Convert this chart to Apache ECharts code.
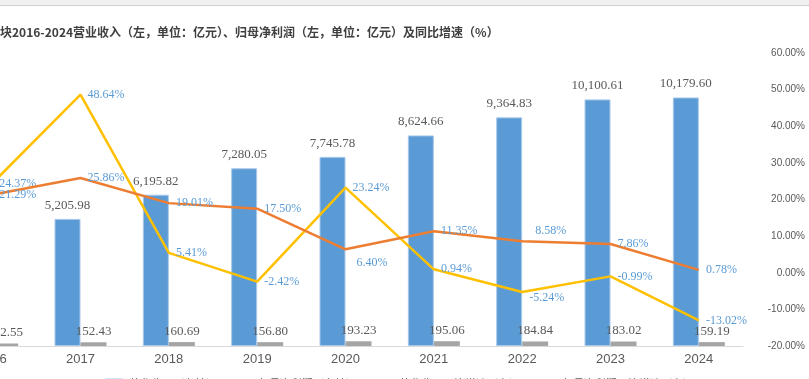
<!DOCTYPE html>
<html><head><meta charset="utf-8">
<script src="https://cdn.jsdelivr.net/npm/echarts@6/dist/echarts.min.js"></script>
<style>html,body{margin:0;padding:0;background:#fff;overflow:hidden;width:809px;height:379px;position:relative}#c{width:861px;height:379px;position:absolute;left:-52px;top:0}</style>
</head><body><div id="c"></div>
<script>
const categories = ['2016','2017','2018','2019','2020','2021','2022','2023','2024'];
const revenue = [4136.35, 5205.98, 6195.82, 7280.05, 7745.78, 8624.66, 9364.83, 10100.61, 10179.60];
const netProfit = [102.55, 152.43, 160.69, 156.80, 193.23, 195.06, 184.84, 183.02, 159.19];
const revenueGrowth = [21.29, 25.86, 19.01, 17.50, 6.40, 11.35, 8.58, 7.86, 0.78];
const profitGrowth = [24.37, 48.64, 5.41, -2.42, 23.24, 0.94, -5.24, -0.99, -13.02];
const legendNames = ['营业收入（左轴）','归母净利润（左轴）','营业收入同比增速（右）','归母净利润同比增速（右）'];
const titleText = '块2016-2024营业收入（左，单位：亿元）、归母净利润（左，单位：亿元）及同比增速（%）';

const shift = 52; // the chart canvas starts 52px left of the page (cropped view)
const serif = '"Liberation Serif", "Times New Roman", serif';
const narrow = '"Liberation Sans Narrow", "Liberation Sans", sans-serif';
const fmtNum = v => v.toLocaleString('en-US', {minimumFractionDigits: 2, maximumFractionDigits: 2});
const fmtPct = v => v.toFixed(2) + '%';

const pctLabel = {show: true, position: 'right', distance: 7, fontFamily: serif, fontSize: 12, color: '#5b9bd5', formatter: p => fmtPct(p.value)};

const revData = revenue.map((v, i) => i === 0 ? {value: v, label: {show: false}} : v);
const revGrowthData = revenueGrowth.map((v, i) => {
  if (i === 4) return {value: v, label: {offset: [4, 14]}};
  if (i === 6) return {value: v, label: {offset: [6, -10]}};
  return v;
});
const profGrowthData = profitGrowth.map((v, i) => {
  if (i === 6) return {value: v, label: {offset: [0, 6]}};
  return v;
});

const chart = echarts.init(document.getElementById('c'), null, {renderer: 'canvas'});
chart.setOption({
  animation: false,
  backgroundColor: '#ffffff',
  graphic: [
    {type: 'rect', left: 0, top: 0, shape: {width: 861, height: 5}, style: {fill: '#f0f0f0'}},
    {type: 'rect', left: 0, top: 5, shape: {width: 861, height: 1}, style: {fill: '#d0d0d0'}},
    {type: 'text', left: shift, top: 26, style: {text: titleText, fontSize: 12, fontWeight: 'bold', fill: '#404040', fontFamily: '"Noto Sans CJK SC", sans-serif'}}
  ],
  legend: {
    data: legendNames, left: 98 + shift, top: 373, itemWidth: 20, itemHeight: 8, itemGap: 16,
    textStyle: {fontSize: 11, color: '#595959', fontFamily: '"Noto Sans CJK SC", sans-serif'}
  },
  grid: {left: 0, right: 66, top: 53, bottom: 33, containLabel: false},
  xAxis: {
    type: 'category', data: categories,
    axisLine: {lineStyle: {color: '#d9d9d9', width: 1}}, axisTick: {show: false},
    axisLabel: {color: '#595959', fontSize: 13, fontFamily: narrow, margin: 7}
  },
  yAxis: [
    {type: 'value', min: 0, max: 12000, interval: 1500, show: false, splitLine: {show: false}},
    {type: 'value', position: 'right', min: -20, max: 60, interval: 10,
     axisLine: {show: false}, axisTick: {show: false}, splitLine: {show: false},
     axisLabel: {formatter: v => v.toFixed(2) + '%', color: '#595959', fontSize: 10, fontFamily: narrow, align: 'right', margin: 62}}
  ],
  series: [
    {name: legendNames[0], type: 'bar', data: revData, yAxisIndex: 0, barWidth: 26, barGap: '0%',
     itemStyle: {color: '#5b9bd5', borderColor: '#a9c9ea', borderWidth: 1},
     label: {show: true, position: 'top', distance: 7, fontFamily: serif, fontSize: 13, color: '#595959', formatter: p => fmtNum(p.value)}},
    {name: legendNames[1], type: 'bar', data: netProfit, yAxisIndex: 0, barWidth: 26, barGap: '0%',
     itemStyle: {color: '#a5a5a5'},
     label: {show: true, position: 'top', distance: 4, fontFamily: serif, fontSize: 13, color: '#595959', formatter: p => fmtNum(p.value)}},
    {name: legendNames[2], type: 'line', data: revGrowthData, yAxisIndex: 1, symbol: 'circle', symbolSize: 0.1, showSymbol: true,
     lineStyle: {color: '#ed7d31', width: 2.5}, itemStyle: {color: '#ed7d31'}, label: pctLabel, z: 5},
    {name: legendNames[3], type: 'line', data: profGrowthData, yAxisIndex: 1, symbol: 'circle', symbolSize: 0.1, showSymbol: true,
     lineStyle: {color: '#ffc000', width: 2.5}, itemStyle: {color: '#ffc000'}, label: pctLabel, z: 4}
  ]
});
</script></body></html>
